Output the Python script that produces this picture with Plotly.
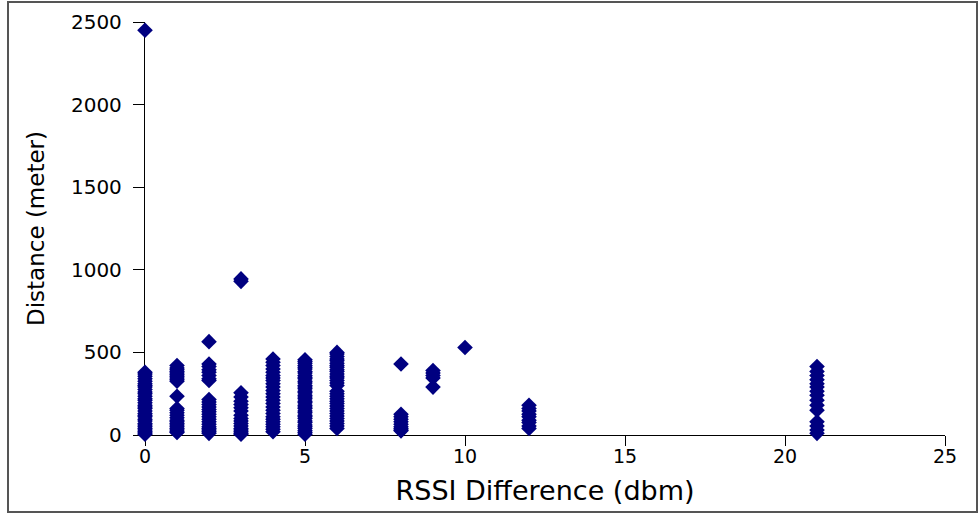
import plotly.graph_objects as go

# RSSI difference columns and distances (meters)
x_values = [0, 1, 2, 3, 4, 5, 6, 8, 9, 10, 12, 21]
dist_0 = [2450, 380, 370, 355, 340, 325, 310, 300, 290, 275, 260, 250, 235, 220, 210, 195, 180, 170,
          160, 145, 130, 120, 110, 95, 85, 70, 60, 50, 40, 30, 20, 12, 5]
dist_1 = [420, 405, 395, 385, 375, 365, 355, 345, 335, 325, 235, 160, 150, 135, 120, 105, 90, 80,
          70, 60, 50, 40, 30, 20, 15]
dist_2 = [565, 430, 415, 395, 380, 360, 340, 330, 215, 200, 185, 170, 155, 140, 125, 110, 95, 80,
          65, 50, 40, 30, 20, 10]
dist_3 = [945, 930, 255, 230, 205, 185, 165, 145, 120, 100, 85, 70, 55, 40, 30, 20, 10, 5]
dist_4 = [460, 440, 420, 400, 380, 360, 345, 330, 310, 290, 270, 250, 230, 210, 190, 170, 150, 130,
          110, 95, 80, 65, 50, 35, 20]
dist_5 = [455, 445, 435, 420, 410, 400, 385, 375, 360, 350, 340, 325, 315, 300, 290, 280, 265, 255,
          240, 230, 220, 205, 195, 180, 170, 160, 145, 135, 120, 110, 100, 85, 75, 60, 50, 40, 25, 15, 5]
dist_6 = [500, 490, 475, 460, 450, 435, 420, 410, 395, 385, 370, 355, 345, 330, 315, 300, 265, 250,
          235, 220, 205, 190, 175, 160, 145, 130, 115, 100, 85, 70, 55, 40]
dist_8 = [430, 125, 110, 95, 80, 65, 50, 40, 30, 25]
dist_9 = [390, 375, 360, 345, 290]
dist_10 = [530]
dist_12 = [180, 160, 145, 125, 110, 90, 75, 55, 40]
dist_21 = [415, 385, 360, 335, 310, 290, 265, 240, 210, 180, 150, 80, 55, 30, 10]

columns = [dist_0, dist_1, dist_2, dist_3, dist_4, dist_5, dist_6, dist_8, dist_9, dist_10, dist_12, dist_21]

xs, ys = [], []
for xv, col in zip(x_values, columns):
    for d in col:
        xs.append(xv)
        ys.append(d)

x_ticks = [0, 5, 10, 15, 20, 25]
y_ticks = [0, 500, 1000, 1500, 2000, 2500]

fig = go.Figure()
fig.add_trace(go.Scatter(
    x=xs, y=ys, mode="markers",
    marker=dict(symbol="diamond", size=12, color="#000080", line=dict(width=0)),
    cliponaxis=False, showlegend=False, hoverinfo="x+y",
))

W, H = 980, 514
L, R, T, B = 145, 35, 22, 79
pw, ph = W - L - R, H - T - B

fig.update_layout(
    width=W, height=H,
    margin=dict(l=L, r=R, t=T, b=B, autoexpand=False),
    paper_bgcolor="white", plot_bgcolor="white",
    font=dict(family="DejaVu Sans", color="black", size=20),
    xaxis=dict(
        range=[0, 25], tickvals=x_ticks, ticktext=[str(v) for v in x_ticks],
        showgrid=False, zeroline=False, showline=True, linecolor="black", linewidth=1.3,
        ticks="outside", ticklen=10, tickcolor="black", tickwidth=1.3,
        tickfont=dict(size=19), layer="below traces", ticklabelstandoff=-6,
        title=dict(text="RSSI Difference (dbm)", font=dict(size=27), standoff=15),
    ),
    yaxis=dict(
        range=[0, 2500], tickvals=y_ticks, ticktext=[str(v) for v in y_ticks],
        showgrid=False, zeroline=False, showline=True, linecolor="black", linewidth=1.3,
        ticks="outside", ticklen=11, tickcolor="black", tickwidth=1.3,
        tickfont=dict(size=20), layer="below traces", ticklabelstandoff=7,
        title=dict(text="Distance (meter)", font=dict(size=23), standoff=19),
    ),
    shapes=[dict(
        type="rect", xref="paper", yref="paper",
        x0=(8 - L) / pw, x1=(977 - L) / pw,
        y0=(H - B - 512) / ph, y1=(H - B - 2) / ph,
        line=dict(color="#555555", width=2), fillcolor="rgba(0,0,0,0)", layer="below",
    )],
)

fig.write_html("out.html")
